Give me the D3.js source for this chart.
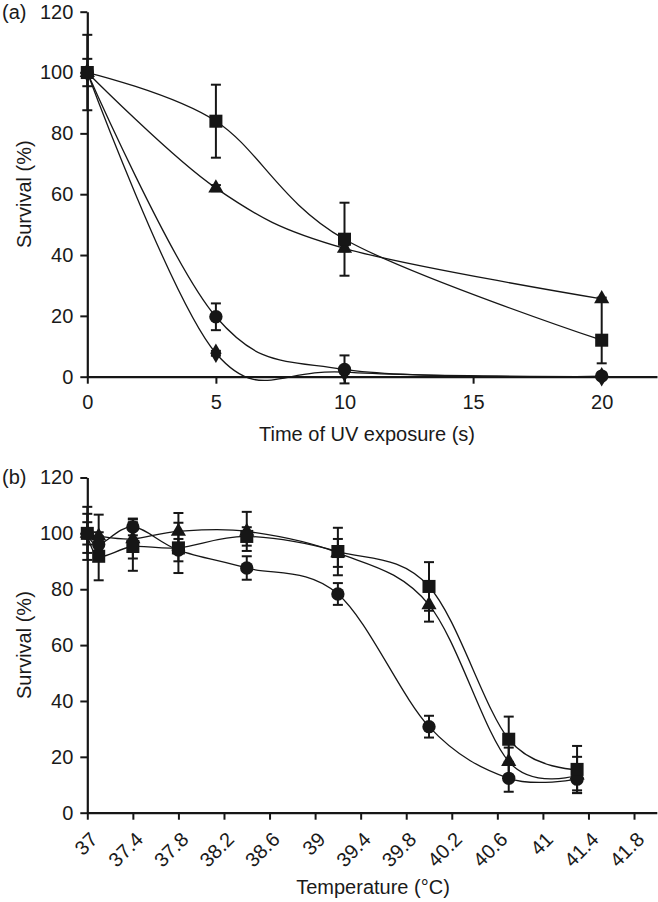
<!DOCTYPE html>
<html>
<head>
<meta charset="utf-8">
<script src="https://cdn.jsdelivr.net/npm/d3@7/dist/d3.min.js"></script>
<style>
  body { margin: 0; background: #fff; }
  svg { display: block; }
  text { font-family: "Liberation Sans", Arial, sans-serif; fill: #1a1a1a; }
</style>
</head>
<body>
<svg id="chart" width="658" height="902"></svg>
<script>
// ---------- Panel (a): UV exposure ----------
const aX = [0, 5, 10, 20];
const aXTicks = [0, 5, 10, 15, 20];
const aYTicks = [0, 20, 40, 60, 80, 100, 120];
const aSquare = [100, 84, 45.2, 12];
const aSquareErrUp = [12.4, 12, 12, 14];
const aSquareErrDown = [12.4, 12, 12, 7.6];
const aTriangle = [100, 62, 42.2, 25.6];
const aTriangleErr = [4.5, 1, 1, 0];
const aCircle = [100, 19.7, 2.4, 0.2];
const aCircleErr = [1, 4.4, 4.6, 0];
const aDiamond = [100, 7.7, 1.5, 0];
const aDiamondErr = [0, 0.8, 0.5, 0];

// ---------- Panel (b): temperature ----------
const bX = [37, 37.1, 37.4, 37.8, 38.4, 39.2, 40, 40.7, 41.3];
const bXTicks = [37, 37.4, 37.8, 38.2, 38.6, 39, 39.4, 39.8, 40.2, 40.6, 41, 41.4, 41.8];
const bXTickLabels = ["37", "37.4", "37.8", "38.2", "38.6", "39", "39.4", "39.8", "40.2", "40.6", "41", "41.4", "41.8"];
const bYTicks = [0, 20, 40, 60, 80, 100, 120];
const bSquare = [100, 91.8, 95.3, 94.8, 98.9, 93.5, 81, 26.3, 15.5];
const bSquareErr = [9.5, 8.6, 8.7, 9, 3.3, 8.5, 8.7, 8.1, 8.4];
const bTriangle = [100, 99, 98, 100.7, 100.7, 93, 74.4, 18.3, 13.5];
const bTriangleErr = [7, 7.7, 7, 6.6, 7, 5, 6, 5, 6.5];
const bCircle = [100, 96, 102.3, 94, 87.6, 78.3, 30.8, 12.3, 12];
const bCircleErr = [4, 3, 3, 4, 4.2, 3.9, 3.9, 4.8, 4];

const svg = d3.select("#chart");
svg.append("rect").attr("width", 658).attr("height", 902).attr("fill", "#fff");
const INK = "#161616";

function symbolPath(shape) {
  if (shape === "square") return d3.symbol(d3.symbolSquare, 170)();
  if (shape === "triangle") return d3.symbol(d3.symbolTriangle, 100)();
  if (shape === "circle") return d3.symbol(d3.symbolCircle, 140)();
  return d3.symbol(d3.symbolDiamond, 110)();
}

function drawPanel(cfg) {
  const g = svg.append("g");
  const x = d3.scaleLinear().domain(cfg.xDomain).range(cfg.xRange);
  const y = d3.scaleLinear().domain([0, 120]).range(cfg.yRange);

  // axes
  const yAxis = d3.axisLeft(y).tickValues(cfg.yTicks).tickSize(7).tickSizeOuter(0).tickPadding(7);
  const gy = g.append("g").attr("transform", `translate(${cfg.xRange[0]},0)`).call(yAxis);
  const xAxis = d3.axisBottom(x).tickValues(cfg.xTicks).tickSize(7).tickSizeOuter(0).tickPadding(11);
  if (cfg.xTickLabels) xAxis.tickFormat((d, i) => cfg.xTickLabels[i]);
  const gx = g.append("g").attr("transform", `translate(0,${cfg.yRange[0]})`).call(xAxis);
  [gx, gy].forEach(a => {
    a.select(".domain").attr("stroke", INK).attr("stroke-width", 2.2);
    a.selectAll(".tick line").attr("stroke", INK).attr("stroke-width", 2);
    a.selectAll(".tick text").attr("font-size", 20).attr("fill", "#1a1a1a")
      .style("font-family", '"Liberation Sans", Arial, sans-serif');
  });
  if (cfg.rotateX) {
    gx.selectAll(".tick text")
      .attr("x", 0).attr("y", 0).attr("dy", 0)
      .attr("text-anchor", "end")
      .attr("transform", "translate(11,28) rotate(-45)");
  }

  // axis titles
  g.append("text").attr("x", cfg.xTitleX).attr("y", cfg.xTitleY)
    .attr("text-anchor", "middle").attr("font-size", 20).text(cfg.xTitle);
  const yc = (cfg.yRange[0] + cfg.yRange[1]) / 2;
  g.append("text").attr("transform", `translate(31,${yc}) rotate(-90)`)
    .attr("text-anchor", "middle").attr("font-size", 20).text("Survival (%)");
  g.append("text").attr("x", 2).attr("y", cfg.labelY).attr("font-size", 20).text(cfg.label);

  const line = d3.line().x(d => x(d[0])).y(d => y(d[1])).curve(d3.curveCatmullRom.alpha(0));

  // curves
  cfg.series.forEach(s => {
    const pts = cfg.xs.map((xv, i) => [xv, s.values[i]]);
    g.append("path").attr("d", line(pts)).attr("fill", "none")
      .attr("stroke", INK).attr("stroke-width", 1.3);
  });
  // error bars
  cfg.series.forEach(s => {
    cfg.xs.forEach((xv, i) => {
      const up = s.errUp[i], dn = s.errDown[i];
      if (!up && !dn) return;
      const cx = x(xv);
      const y1 = y(s.values[i] + up), y2 = y(s.values[i] - dn);
      g.append("line").attr("x1", cx).attr("x2", cx).attr("y1", y1).attr("y2", y2)
        .attr("stroke", INK).attr("stroke-width", 2);
      if (up) g.append("line").attr("x1", cx - 5).attr("x2", cx + 5).attr("y1", y1).attr("y2", y1)
        .attr("stroke", INK).attr("stroke-width", 2);
      if (dn) g.append("line").attr("x1", cx - 5).attr("x2", cx + 5).attr("y1", y2).attr("y2", y2)
        .attr("stroke", INK).attr("stroke-width", 2);
    });
  });
  // markers
  cfg.series.forEach(s => {
    cfg.xs.forEach((xv, i) => {
      g.append("path").attr("d", symbolPath(s.shape))
        .attr("transform", `translate(${x(xv)},${y(s.values[i])})`)
        .attr("fill", INK);
    });
  });
}

drawPanel({
  xDomain: [0, 22.15], xRange: [87.3, 657], yRange: [376.7, 11.7],
  xTicks: aXTicks, yTicks: aYTicks, xs: aX,
  xTitle: "Time of UV exposure (s)", xTitleX: 367, xTitleY: 441,
  label: "(a)", labelY: 19,
  series: [
    { shape: "diamond", values: aDiamond, errUp: aDiamondErr, errDown: aDiamondErr },
    { shape: "circle", values: aCircle, errUp: aCircleErr, errDown: aCircleErr },
    { shape: "triangle", values: aTriangle, errUp: aTriangleErr, errDown: aTriangleErr },
    { shape: "square", values: aSquare, errUp: aSquareErrUp, errDown: aSquareErrDown }
  ]
});

drawPanel({
  xDomain: [37, 42], xRange: [87.3, 656.8], yRange: [812.7, 477.5],
  xTicks: bXTicks, xTickLabels: bXTickLabels, yTicks: bYTicks, xs: bX, rotateX: true,
  xTitle: "Temperature (°C)", xTitleX: 373, xTitleY: 894,
  label: "(b)", labelY: 484,
  series: [
    { shape: "circle", values: bCircle, errUp: bCircleErr, errDown: bCircleErr },
    { shape: "triangle", values: bTriangle, errUp: bTriangleErr, errDown: bTriangleErr },
    { shape: "square", values: bSquare, errUp: bSquareErr, errDown: bSquareErr }
  ]
});
</script>
</body>
</html>
